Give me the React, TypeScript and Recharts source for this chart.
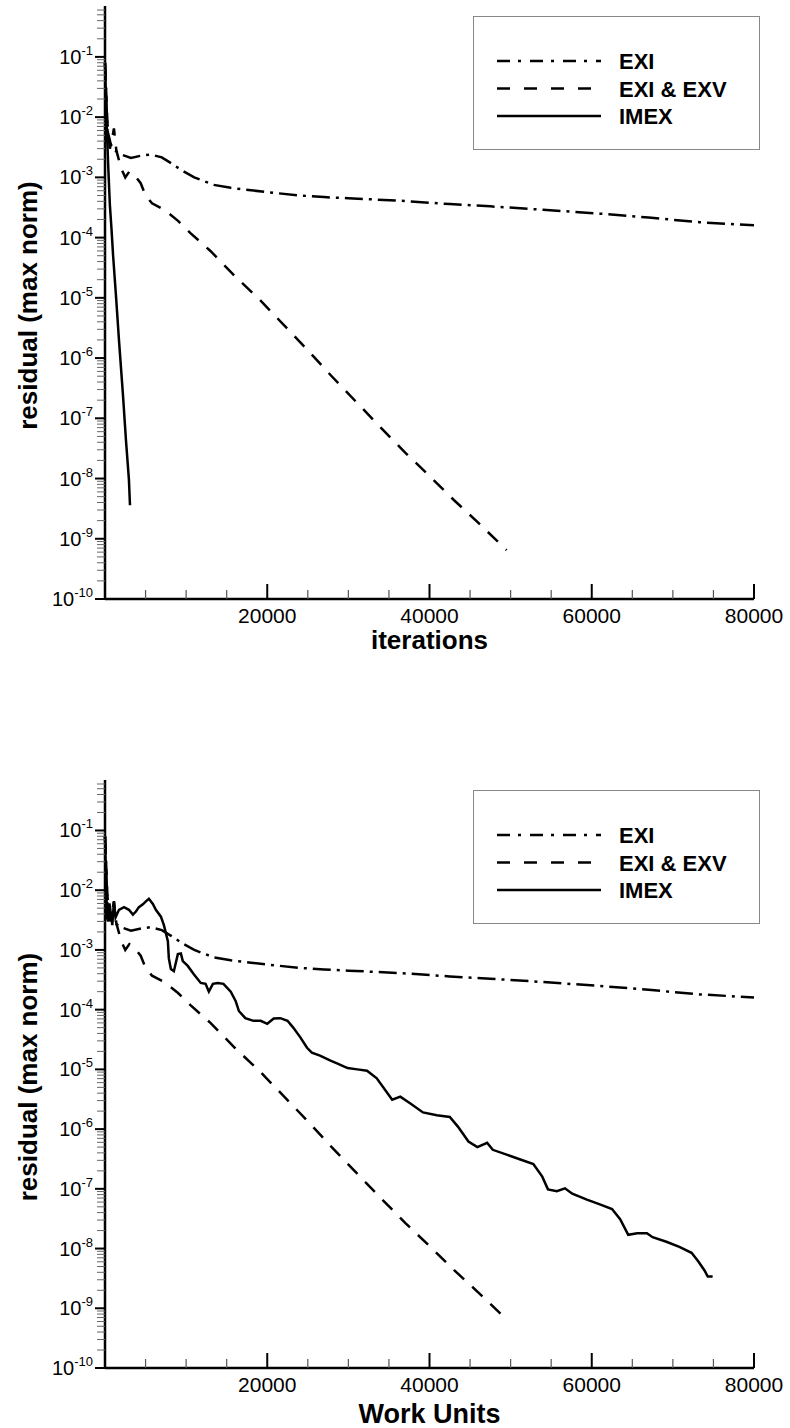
import { Label, Legend, Line, LineChart, XAxis, YAxis } from 'recharts';

const FONT = '"Liberation Sans", Arial, Helvetica, sans-serif';

// residual history, [iterations (or work units), max-norm residual]
const EXI: [number, number][] = [
  [0, 8e-2], [300, 6e-3], [700, 3.6e-3], [1000, 2.9e-3], [2000, 2.4e-3],
  [3200, 2.1e-3], [4500, 2.3e-3], [5600, 2.4e-3], [7000, 2.15e-3], [8200, 1.7e-3],
  [9500, 1.3e-3], [11000, 1.0e-3], [13400, 7.5e-4], [15500, 6.7e-4], [18000, 6.1e-4],
  [21000, 5.5e-4], [24100, 5.0e-4], [27000, 4.7e-4], [30000, 4.5e-4], [36400, 4.1e-4],
  [42500, 3.6e-4], [47500, 3.3e-4], [54000, 2.9e-4], [61000, 2.5e-4], [67000, 2.15e-4],
  [73300, 1.8e-4], [80000, 1.6e-4],
];

const EXI_EXV: [number, number][] = [
  [0, 8e-2], [300, 8e-3], [600, 3e-3], [900, 4.5e-3], [1100, 6.5e-3],
  [1400, 2.8e-3], [2000, 1.4e-3], [2500, 1.0e-3], [3000, 1.25e-3], [3600, 1.1e-3],
  [4400, 8e-4], [5000, 5e-4], [5800, 3.7e-4], [7300, 2.9e-4], [9000, 1.9e-4],
  [10500, 1.2e-4], [13000, 6e-5], [16000, 2.3e-5], [19000, 9.5e-6], [22000, 3.6e-6],
  [25000, 1.35e-6], [28000, 4.9e-7], [31000, 1.85e-7], [34000, 7e-8], [37000, 2.7e-8],
  [40000, 1.1e-8], [43000, 4.4e-9], [46000, 1.85e-9], [49500, 6.5e-10],
];

const IMEX_ITER: [number, number][] = [
  [0, 8e-2], [200, 8e-3], [400, 1.5e-3], [600, 3.5e-4], [800, 1.4e-4],
  [1000, 5e-5], [1350, 1.1e-5], [1720, 2e-6], [2210, 2.5e-7], [2580, 4.4e-8],
  [2950, 9.5e-9], [3080, 3.6e-9],
];

const IMEX_WORK: [number, number][] = [
  [0, 8e-2], [150, 1.2e-2], [250, 3.5e-3], [370, 3.0e-3], [550, 6.0e-3],
  [740, 3.9e-3], [900, 2.6e-3], [1100, 6.5e-3], [1300, 3.5e-3], [1720, 4.7e-3],
  [2340, 5.2e-3], [2950, 4.7e-3], [3440, 3.9e-3], [3810, 4.4e-3], [4180, 5.2e-3],
  [4670, 5.8e-3], [5040, 6.5e-3], [5410, 7.2e-3], [5900, 5.9e-3], [6270, 4.7e-3],
  [6890, 3.6e-3], [7260, 2.6e-3], [7750, 1.4e-3], [7870, 7.2e-4], [8120, 4.8e-4],
  [8490, 4.4e-4], [8980, 8.5e-4], [9350, 8.7e-4], [9590, 6.5e-4], [10200, 5.4e-4],
  [10950, 3.9e-4], [11800, 2.8e-4], [12400, 2.7e-4], [12800, 2.0e-4], [13300, 2.7e-4],
  [13900, 2.8e-4], [14600, 2.7e-4], [15500, 2.0e-4], [16100, 1.4e-4], [16500, 9.5e-5],
  [17300, 7.2e-5], [18300, 6.5e-5], [19200, 6.5e-5], [20000, 5.8e-5], [20800, 7.1e-5],
  [21600, 7.2e-5], [22500, 6.5e-5], [23200, 5.0e-5], [24100, 3.4e-5], [24900, 2.3e-5],
  [25500, 1.9e-5], [26500, 1.7e-5], [27800, 1.4e-5], [28600, 1.26e-5], [29900, 1.05e-5],
  [31100, 1.0e-5], [32300, 9.5e-6], [33500, 7.1e-6], [35400, 3.1e-6], [36400, 3.5e-6],
  [37600, 2.7e-6], [39200, 1.9e-6], [40900, 1.7e-6], [42500, 1.6e-6], [43500, 1.1e-6],
  [44800, 6.2e-7], [45900, 5.0e-7], [47100, 5.9e-7], [47800, 4.5e-7], [49600, 3.7e-7],
  [51200, 3.1e-7], [52800, 2.6e-7], [53900, 1.6e-7], [54600, 9.8e-8], [55700, 9.1e-8],
  [56700, 1.02e-7], [57600, 8.3e-8], [59400, 6.6e-8], [61000, 5.5e-8], [62500, 4.6e-8],
  [63500, 3.1e-8], [64500, 1.7e-8], [65600, 1.8e-8], [66800, 1.8e-8], [67500, 1.55e-8],
  [69200, 1.3e-8], [70800, 1.07e-8], [72300, 8.5e-9], [73100, 6.2e-9], [73900, 4.3e-9],
  [74300, 3.4e-9], [74900, 3.4e-9],
];

const X_TICKS = [
  5000, 10000, 15000, 20000, 25000, 30000, 35000, 40000,
  45000, 50000, 55000, 60000, 65000, 70000, 75000, 80000,
];
const X_LABELLED = [20000, 40000, 60000, 80000];

const Y_DECADES = [1e-10, 1e-9, 1e-8, 1e-7, 1e-6, 1e-5, 1e-4, 1e-3, 1e-2, 1e-1];
const Y_MINOR_MULT = [2, 3, 4, 5, 6, 7, 8, 9];
const Y_TICKS = [
  ...Y_DECADES,
  ...Y_DECADES.flatMap((d) => Y_MINOR_MULT.map((m) => m * d)).filter((v) => v < 0.7),
];

const DASH: Record<string, string | undefined> = {
  EXI: '18 6 3 6',
  'EXI & EXV': '14 11',
  IMEX: undefined,
};
const LEGEND_DASH: Record<string, string | undefined> = {
  EXI: '13 8 3 9',
  'EXI & EXV': '13 14',
  IMEX: undefined,
};

const toPts = (s: [number, number][]) => s.map(([x, y]) => ({ x, y }));

function YTick({ x, y, payload }: any) {
  const v = payload.value as number;
  const lg = Math.log10(v);
  const major = Math.abs(lg - Math.round(lg)) < 1e-6;
  return (
    <g>
      <line
        x1={x - (major ? 10 : 8)}
        x2={x}
        y1={y}
        y2={y}
        stroke={major ? '#000' : '#666'}
        strokeWidth={major ? 2 : 1}
      />
      {major && (
        <text x={x - 12} y={y + 7} textAnchor="end" fontFamily={FONT} fontSize={20} fill="#000">
          10
          <tspan dy={-9} fontSize={13}>
            {`-${Math.abs(Math.round(lg))}`}
          </tspan>
        </text>
      )}
    </g>
  );
}

function XTick({ x, y, payload }: any) {
  const v = payload.value as number;
  const major = X_LABELLED.includes(v);
  return (
    <g>
      <line x1={x} x2={x} y1={y} y2={y - (major ? 15 : 9)} stroke={major ? '#000' : '#555'} strokeWidth={major ? 2 : 1.2} />
      {major && (
        <text x={x} y={y + 24} textAnchor="middle" fontFamily={FONT} fontSize={21} fill="#000">
          {v}
        </text>
      )}
    </g>
  );
}

function LegendBox({ payload }: any) {
  const items: { value: string }[] = payload ?? [];
  return (
    <svg width={287} height={134} style={{ display: 'block' }}>
      <rect x={0.5} y={0.5} width={286} height={133} fill="#fff" stroke="#888" />
      {items.map((e, i) => {
        const ly = 45 + i * 27.5;
        return (
          <g key={e.value}>
            <line x1={24} x2={128} y1={ly} y2={ly} stroke="#000" strokeWidth={2.5} strokeDasharray={LEGEND_DASH[e.value]} />
            <text x={146} y={ly + 8} fontFamily={FONT} fontWeight="bold" fontSize={22} fill="#000">
              {e.value}
            </text>
          </g>
        );
      })}
    </svg>
  );
}

function ResidualChart({
  height,
  imex,
  xTitle,
  xTitleSize,
  xTitleOffset,
}: {
  height: number;
  imex: [number, number][];
  xTitle: string;
  xTitleSize: number;
  xTitleOffset: number;
}) {
  return (
    <LineChart width={790} height={height} margin={{ top: 6, right: 36, left: 0, bottom: 0 }}>
      <XAxis
        dataKey="x"
        type="number"
        domain={[0, 80000]}
        ticks={X_TICKS}
        interval={0}
        tickSize={0}
        tickMargin={0}
        tickLine={false}
        tick={<XTick />}
        height={60}
        axisLine={{ stroke: '#000', strokeWidth: 2.5 }}
      >
        <Label
          content={({ viewBox }: any) => (
            <text
              x={viewBox.x + viewBox.width / 2}
              y={viewBox.y + xTitleOffset}
              textAnchor="middle"
              fontFamily={FONT}
              fontWeight="bold"
              fontSize={xTitleSize}
              fill="#000"
            >
              {xTitle}
            </text>
          )}
        />
      </XAxis>
      <YAxis
        type="number"
        scale="log"
        domain={[1e-10, 0.7]}
        allowDataOverflow
        ticks={Y_TICKS}
        interval={0}
        tickSize={0}
        tickMargin={0}
        tickLine={false}
        tick={<YTick />}
        width={105}
        axisLine={{ stroke: '#000', strokeWidth: 2.5 }}
      >
        <Label
          content={({ viewBox }: any) => {
            const cy = viewBox.y + viewBox.height / 2 + 3;
            return (
              <text
                x={37}
                y={cy}
                transform={`rotate(-90 37 ${cy})`}
                textAnchor="middle"
                fontFamily={FONT}
                fontWeight="bold"
                fontSize={26}
                fill="#000"
              >
                residual (max norm)
              </text>
            );
          }}
        />
      </YAxis>
      <Legend
        layout="horizontal"
        verticalAlign="middle"
        align="center"
        wrapperStyle={{ left: 473, top: 16, width: 287, height: 134 }}
        content={<LegendBox />}
      />
      <Line
        name="EXI"
        data={toPts(EXI)}
        dataKey="y"
        type="linear"
        stroke="#000"
        strokeWidth={2.5}
        strokeDasharray={DASH.EXI}
        dot={false}
        isAnimationActive={false}
      />
      <Line
        name="EXI & EXV"
        data={toPts(EXI_EXV)}
        dataKey="y"
        type="linear"
        stroke="#000"
        strokeWidth={2.5}
        strokeDasharray={DASH['EXI & EXV']}
        dot={false}
        isAnimationActive={false}
      />
      <Line
        name="IMEX"
        data={toPts(imex)}
        dataKey="y"
        type="linear"
        stroke="#000"
        strokeWidth={2.5}
        dot={false}
        isAnimationActive={false}
      />
    </LineChart>
  );
}

export default function App() {
  return (
    <div style={{ position: 'absolute', left: 0, top: 0, width: 790, height: 1428, background: '#fff' }}>
      <div style={{ position: 'absolute', left: 0, top: 0 }}>
        <ResidualChart height={659} imex={IMEX_ITER} xTitle="iterations" xTitleSize={26} xTitleOffset={50} />
      </div>
      <div style={{ position: 'absolute', left: 0, top: 774 }}>
        <ResidualChart height={654} imex={IMEX_WORK} xTitle="Work Units" xTitleSize={27} xTitleOffset={55} />
      </div>
    </div>
  );
}
